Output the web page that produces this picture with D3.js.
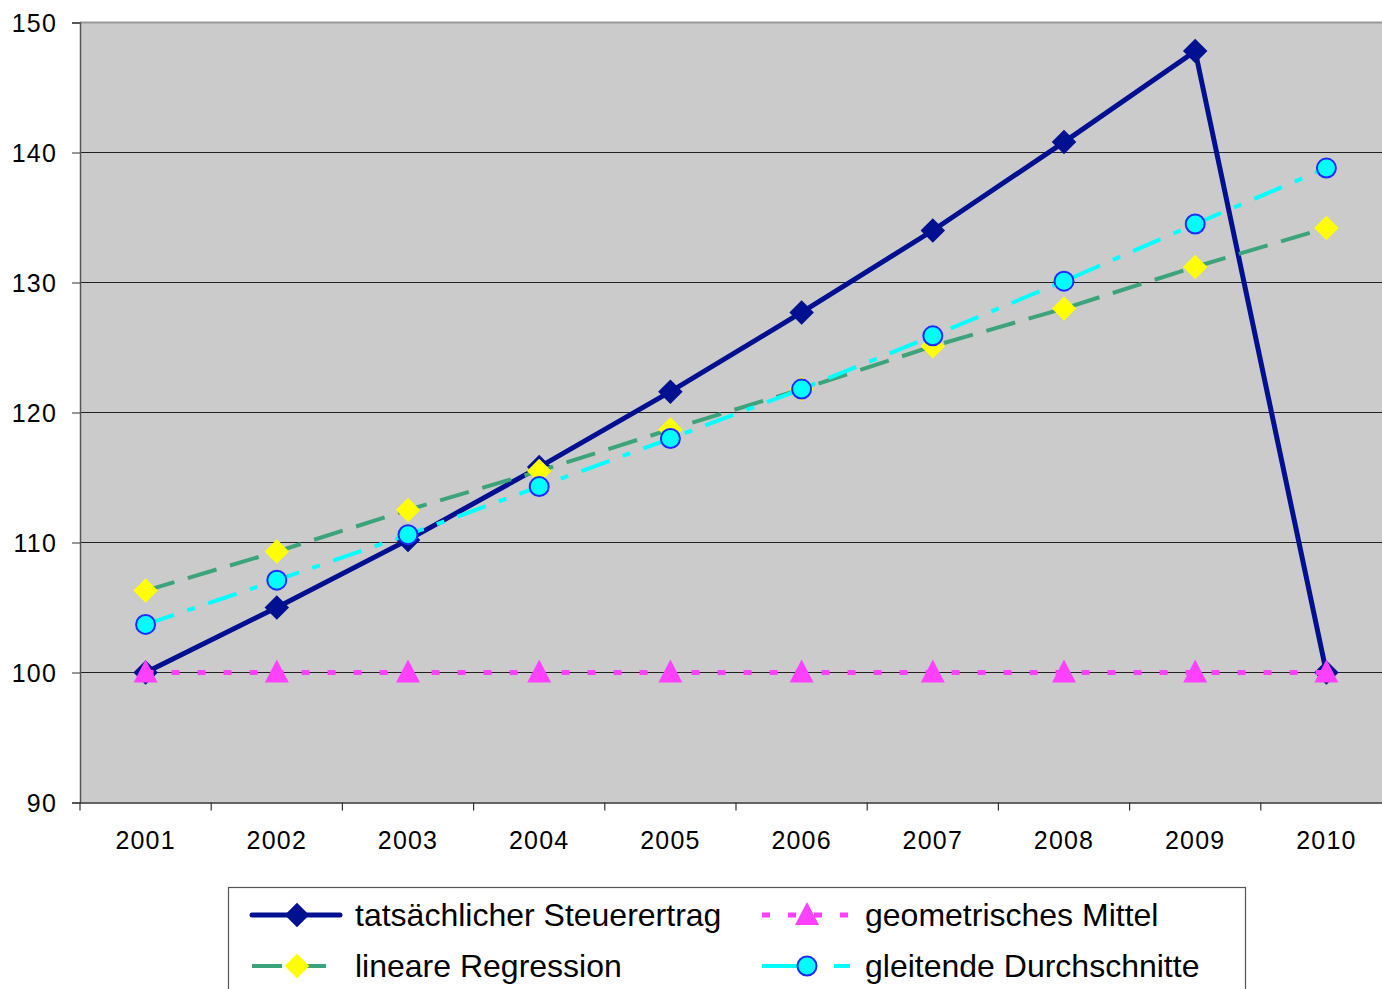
<!DOCTYPE html>
<html>
<head>
<meta charset="utf-8">
<script src="https://cdn.jsdelivr.net/npm/d3@7"></script>
<style>
  body { margin: 0; background: #fff; overflow: hidden; }
  svg text { font-family: "Liberation Sans", Arial, sans-serif; fill: #000; }
</style>
</head>
<body>
<svg id="chart" width="1382" height="989"></svg>
<script>
var years = ["2001", "2002", "2003", "2004", "2005", "2006", "2007", "2008", "2009", "2010"];
var actual = [100, 105, 110.2, 115.8, 121.6, 127.7, 134, 140.8, 147.8, 100];
var regression = [106.3, 109.3, 112.5, 115.5, 118.7, 121.8, 125.1, 128, 131.2, 134.2];
var movingAvg = [103.7, 107.1, 110.6, 114.3, 118, 121.8, 125.9, 130.1, 134.5, 138.8];
var geometric = [100, 100, 100, 100, 100, 100, 100, 100, 100, 100];
var yTicks = [90, 100, 110, 120, 130, 140, 150];

var svg = d3.select("#chart"),
    plotLeft = 80, plotRight = 1392, plotTop = 22.5, plotBottom = 802.5;

var x = d3.scaleBand().domain(years).range([plotLeft, plotRight]);
var y = d3.scaleLinear().domain([90, 150]).range([plotBottom, plotTop]);
var cx = function (d, i) { return x(years[i]) + x.bandwidth() / 2; };

// plot area
svg.append("rect")
    .attr("x", plotLeft).attr("y", plotTop)
    .attr("width", plotRight - plotLeft).attr("height", plotBottom - plotTop)
    .attr("fill", "#cbcbcb");
svg.append("line")
    .attr("x1", plotLeft).attr("x2", plotRight).attr("y1", plotTop).attr("y2", plotTop)
    .attr("stroke", "#999").attr("stroke-width", 2);

// gridlines
svg.append("g").selectAll("line")
    .data(yTicks.filter(function (t) { return t > 90 && t < 150; }))
  .enter().append("line")
    .attr("x1", plotLeft).attr("x2", plotRight)
    .attr("y1", function (d) { return y(d); }).attr("y2", function (d) { return y(d); })
    .attr("stroke", "#222").attr("stroke-width", 1);

// axes
var yAxis = svg.append("g")
    .attr("transform", "translate(" + plotLeft + ",0)")
    .call(d3.axisLeft(y).tickValues(yTicks).tickSize(8).tickPadding(15).tickFormat(d3.format("d")));
yAxis.select(".domain").attr("stroke", "#555").attr("stroke-width", 1.5);
yAxis.selectAll(".tick line").attr("stroke", "#333");
yAxis.selectAll("text").style("font-size", "25px").style("letter-spacing", "1.2px").attr("dy", "0.35em");

var xAxis = svg.append("g")
    .attr("transform", "translate(0," + plotBottom + ")")
    .call(d3.axisBottom(x).tickSize(0).tickPadding(29));
xAxis.select(".domain").attr("stroke", "#333").attr("stroke-width", 1.5);
xAxis.selectAll("text").style("font-size", "25px").style("letter-spacing", "1.2px");
xAxis.selectAll(".bound").data(years).enter().append("line")
    .attr("x1", function (d) { return x(d); }).attr("x2", function (d) { return x(d); })
    .attr("y1", 0).attr("y2", 8)
    .attr("stroke", "#333").attr("stroke-width", 1.2);

var line = d3.line().x(cx).y(function (d) { return y(d); });

var series = [
  { name: "tatsächlicher Steuerertrag", data: actual, color: "#001090", width: 5, dash: null,
    legendDash: null, marker: "diamond", fill: "#001090", stroke: "none" },
  { name: "geometrisches Mittel", data: geometric, color: "#ff40ff", width: 5, dash: "8,18",
    legendDash: "8,18", marker: "triangle", fill: "#ff40ff", stroke: "none" },
  { name: "lineare Regression", data: regression, color: "#3ca37a", width: 4, dash: "30,14",
    legendDash: "30,14", marker: "diamond", fill: "#ffff00", stroke: "none" },
  { name: "gleitende Durchschnitte", data: movingAvg, color: "#00ffff", width: 4, dash: "30,14,8,14",
    legendDash: "38,34", marker: "circle", fill: "#00ffff", stroke: "#1a2cff" }
];

function drawMarker(g, s, px, py) {
  if (s.marker === "circle") {
    g.append("circle").attr("cx", px).attr("cy", py).attr("r", 9.5)
        .attr("fill", s.fill).attr("stroke", s.stroke).attr("stroke-width", 2);
  } else if (s.marker === "diamond") {
    g.append("path").attr("d", d3.symbol().type(d3.symbolSquare).size(300)())
        .attr("transform", "translate(" + px + "," + py + ") rotate(45)")
        .attr("fill", s.fill);
  } else {
    g.append("path").attr("d", "M0,-13L12,10L-12,10Z")
        .attr("transform", "translate(" + px + "," + py + ")")
        .attr("fill", s.fill);
  }
}

series.forEach(function (s) {
  var g = svg.append("g");
  g.append("path").datum(s.data)
      .attr("d", line)
      .attr("fill", "none")
      .attr("stroke", s.color)
      .attr("stroke-width", s.width)
      .attr("stroke-dasharray", s.dash);
  s.data.forEach(function (d, i) { drawMarker(g, s, cx(d, i), y(d)); });
});

// legend
var legend = svg.append("g");
legend.append("rect")
    .attr("x", 228.5).attr("y", 887.5).attr("width", 1017).attr("height", 130)
    .attr("fill", "#fff").attr("stroke", "#555").attr("stroke-width", 1.2);

var legendPos = [
  { s: series[0], x: 252, y: 915 },
  { s: series[1], x: 762, y: 915 },
  { s: series[2], x: 252, y: 966 },
  { s: series[3], x: 762, y: 966 }
];
legendPos.forEach(function (p) {
  var s = p.s;
  legend.append("line")
      .attr("x1", p.x).attr("x2", p.x + 88).attr("y1", p.y).attr("y2", p.y)
      .attr("stroke", s.color).attr("stroke-width", s.width)
      .attr("stroke-linecap", s.dash ? "butt" : "round")
      .attr("stroke-dasharray", s.legendDash);
  drawMarker(legend, s, p.x + 45, p.y);
  legend.append("text")
      .attr("x", p.x + 103).attr("y", p.y)
      .attr("dy", "0.35em")
      .style("font-size", "32px")
      .text(s.name);
});
</script>
</body>
</html>
